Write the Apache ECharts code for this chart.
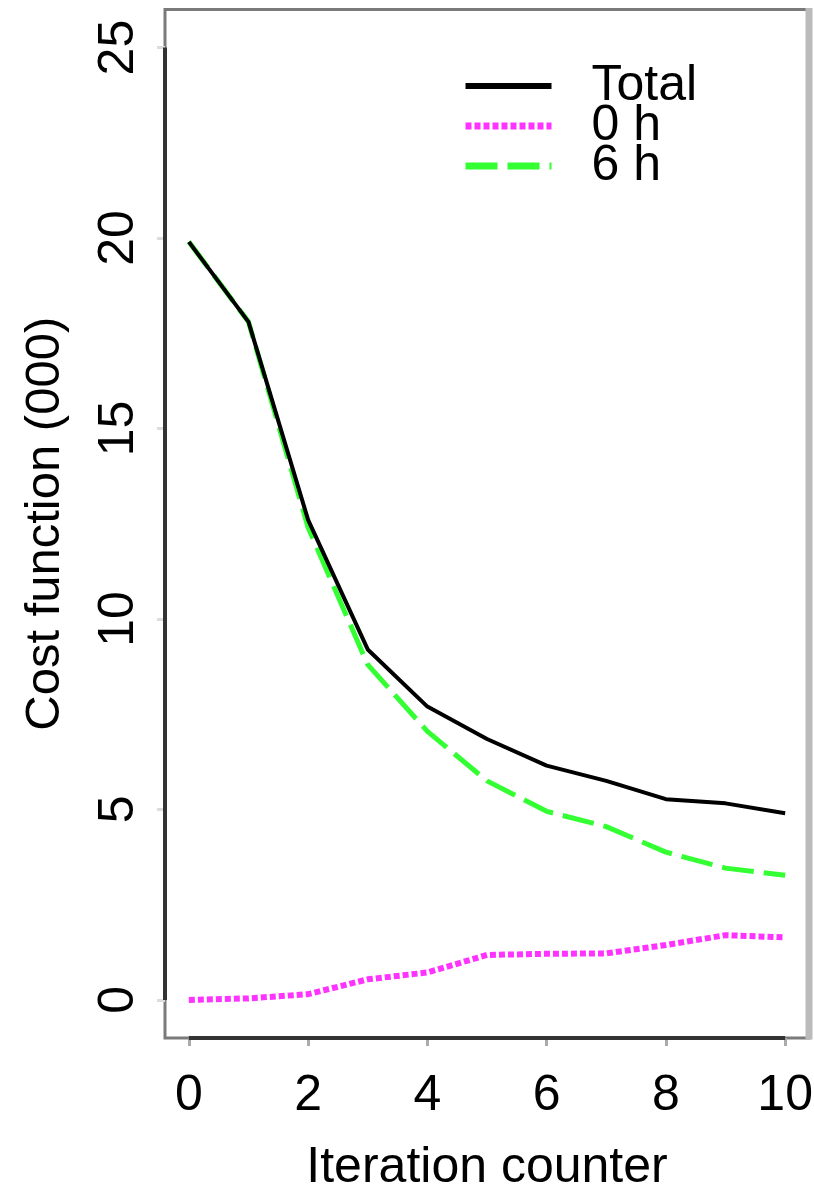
<!DOCTYPE html>
<html>
<head>
<meta charset="utf-8">
<script src="https://cdn.jsdelivr.net/npm/echarts@6/dist/echarts.min.js"></script>
<style>
  html, body { margin: 0; padding: 0; background: #fff; }
  #chart { width: 814px; height: 1188px; }
</style>
</head>
<body>
<div id="chart"></div>
<script>
const iterations = [0, 1, 2, 3, 4, 5, 6, 7, 8, 9, 10];
const totalCost = [19.9, 17.8, 12.6, 9.2, 7.7, 6.85, 6.15, 5.75, 5.27, 5.16, 4.9];
const cost0h = [0, 0.04, 0.15, 0.54, 0.72, 1.18, 1.21, 1.22, 1.44, 1.7, 1.64];
const cost6h = [19.9, 17.8, 12.4, 8.8, 7.05, 5.75, 4.95, 4.55, 3.88, 3.46, 3.27];
const xTicks = [0, 2, 4, 6, 8, 10];
const yTicks = [0, 5, 10, 15, 20, 25];
const seriesNames = ['Total', '0 h', '6 h'];
const xTitle = 'Iteration counter';
const yTitle = 'Cost function (000)';

const FONT = 'Liberation Sans, Arial, sans-serif';
const chart = echarts.init(document.getElementById('chart'), null, { renderer: 'canvas' });

function pairs(vals) { return iterations.map((x, i) => [x, vals[i]]); }

chart.setOption({
  animation: false,
  backgroundColor: '#fff',
  grid: {
    left: 165, right: 5, top: 9.5, bottom: 150,
    outerBoundsMode: 'none', containLabel: false,
    show: true, borderColor: '#7a7a7a', borderWidth: 3, backgroundColor: 'transparent'
  },
  xAxis: {
    type: 'value', min: -0.4, max: 10.4,
    name: xTitle, nameLocation: 'middle', nameGap: 105,
    nameTextStyle: { fontSize: 50, fontFamily: FONT, color: '#000' },
    axisLine: { show: false, onZero: false },
    axisTick: { show: true, customValues: xTicks, length: 8, lineStyle: { color: '#aaa', width: 3 } },
    axisLabel: { customValues: xTicks, margin: 33, fontSize: 50, fontFamily: FONT, color: '#000' },
    splitLine: { show: false }
  },
  yAxis: {
    type: 'value', min: -1, max: 26,
    name: yTitle, nameLocation: 'middle', nameGap: 95, nameRotate: 90,
    nameTextStyle: { fontSize: 49, fontFamily: FONT, color: '#000' },
    axisLine: { show: false, onZero: false },
    axisTick: { show: true, customValues: yTicks, length: 8, lineStyle: { color: '#ddd', width: 3 } },
    axisLabel: { customValues: yTicks, rotate: 90, margin: 21, fontSize: 50, fontFamily: FONT, color: '#000' },
    splitLine: { show: false }
  },
  legend: {
    orient: 'vertical', left: 457, top: 56,
    itemWidth: 86, itemHeight: 8, itemGap: -10,
    itemStyle: { opacity: 0 },
    textStyle: { fontSize: 50, fontFamily: FONT, color: '#000', padding: [0, 0, 0, 35] },
    data: [
      { name: seriesNames[0], lineStyle: { width: 6 } },
      { name: seriesNames[1], lineStyle: { width: 7 } },
      { name: seriesNames[2], lineStyle: { width: 7 } }
    ]
  },
  series: [
    {
      name: seriesNames[0], type: 'line', data: pairs(totalCost), symbol: 'none', z: 5,
      lineStyle: { color: '#000', width: 4 }, itemStyle: { color: '#000' }
    },
    {
      name: seriesNames[1], type: 'line', data: pairs(cost0h), symbol: 'none', z: 3,
      lineStyle: { color: '#ff33ff', width: 6, type: [6, 3] }, itemStyle: { color: '#ff33ff' }
    },
    {
      name: seriesNames[2], type: 'line', data: pairs(cost6h), symbol: 'none', z: 3,
      lineStyle: { color: '#33ff33', width: 5, type: [32, 10] }, itemStyle: { color: '#33ff33' }
    }
  ]
});

// R-style axis lines spanning first to last tick, and right box edge
const p = (x, y) => chart.convertToPixel({ gridIndex: 0 }, [x, y]);
const x0 = p(xTicks[0], -1), x1 = p(xTicks[xTicks.length - 1], -1);
const y0 = p(-0.4, yTicks[0]), y1 = p(-0.4, yTicks[yTicks.length - 1]);
const topRight = p(10.4, 26), botRight = p(10.4, -1);
chart.setOption({
  graphic: [
    { type: 'line', shape: { x1: x0[0], y1: x0[1], x2: x1[0], y2: x1[1] }, style: { stroke: '#333', lineWidth: 4 }, z: 10 },
    { type: 'line', shape: { x1: y0[0], y1: y0[1], x2: y1[0], y2: y1[1] }, style: { stroke: '#333', lineWidth: 4 }, z: 10 },
    { type: 'line', shape: { x1: topRight[0], y1: topRight[1] - 1.5, x2: botRight[0], y2: botRight[1] + 1.5 }, style: { stroke: '#bbb', lineWidth: 7 }, z: 10 }
  ]
});
</script>
</body>
</html>
